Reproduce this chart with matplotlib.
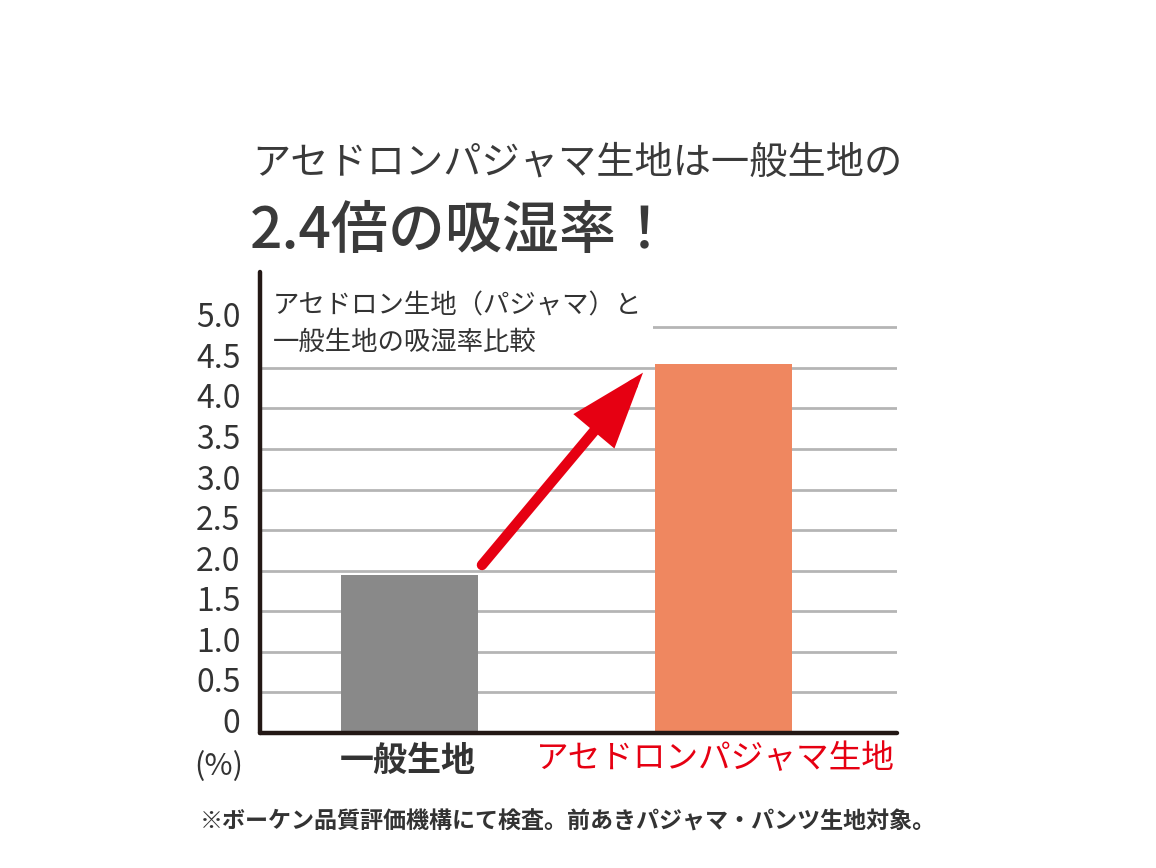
import matplotlib.pyplot as plt
from matplotlib.transforms import ScaledTranslation

plt.rcParams['font.family'] = ['Noto Sans CJK JP', 'DejaVu Sans']

# data
categories = ['一般生地', 'アセドロンパジャマ生地']
values = [1.95, 4.55]
bar_colors = ['#898989', '#ef8760']
label_colors = ['#333333', '#e60012']
y_ticks = [0, 0.5, 1.0, 1.5, 2.0, 2.5, 3.0, 3.5, 4.0, 4.5, 5.0]
y_labels = ['0', '0.5', '1.0', '1.5', '2.0', '2.5', '3.0', '3.5', '4.0', '4.5', '5.0']

W, H = 1156, 868
fig = plt.figure(figsize=(W / 100, H / 100), dpi=100)
ax = fig.add_axes([260 / W, 1 - 733 / H, (897 - 260) / W, (733 - 272) / H])

x = range(len(categories))
ax.bar(x, values, width=0.436, color=bar_colors, zorder=2)

ax.set_xlim(-0.476, 1.553)
ax.set_ylim(0, 5.68)

# gridlines + y labels (labels sit a little above their lines)
ax.set_yticks(y_ticks, y_labels)
ax.grid(axis='y', color='#b5b5b5', linewidth=2, zorder=0)
ax.set_axisbelow(True)
ax.tick_params(axis='y', length=0, pad=14, labelsize=23, labelcolor='#333333')
for lab in ax.get_yticklabels():
    lab.set_transform(lab.get_transform() + ScaledTranslation(0, 9 / 72, fig.dpi_scale_trans))
ax.yaxis.get_gridlines()[0].set_visible(False)

ax.set_xticks(list(x), categories)
ax.tick_params(axis='x', length=0, pad=7)
shifts = [-2, -8]
for lab, c, fs, fw, dx in zip(ax.get_xticklabels(), label_colors, [24.5, 23.5], ['bold', 'normal'], shifts):
    lab.set_color(c)
    lab.set_fontsize(fs)
    lab.set_fontweight(fw)
    lab.set_transform(lab.get_transform() + ScaledTranslation(dx / 100, 0, fig.dpi_scale_trans))

for s in ['top', 'right']:
    ax.spines[s].set_visible(False)
for s in ['left', 'bottom']:
    ax.spines[s].set_linewidth(3.2)
    ax.spines[s].set_color('#231815')
    ax.spines[s].set_capstyle('round')
    ax.spines[s].set_zorder(6)

# inner label
ax.text(-0.436, 5.04, 'アセドロン生地（パジャマ）と\n一般生地の吸湿率比較', fontsize=19,
        color='#333333', va='center', ha='left', linespacing=1.45, zorder=3,
        bbox=dict(facecolor='white', edgecolor='none', pad=8))

# red arrow
ax.annotate('', xy=(0.744, 4.44), xytext=(0.231, 2.07),
            arrowprops=dict(arrowstyle='-|>,head_length=4.0,head_width=1.4',
                            mutation_scale=10, color='#e60012', lw=7.5,
                            shrinkA=0, shrinkB=0, capstyle='round', joinstyle='miter'),
            zorder=4)

# titles
fig.text(252 / W, 1 - 163 / H, 'アセドロンパジャマ生地は一般生地の', fontsize=27.5,
         color='#3a3a3a', va='center', ha='left')
fig.text(250 / W, 1 - 232 / H, '2.4倍の吸湿率！', fontsize=41, fontweight='medium',
         color='#3a3a3a', va='center', ha='left')

fig.text(243 / W, 1 - 767 / H, '(%)', fontsize=22, color='#333333', va='center', ha='right')
fig.text(200 / W, 1 - 822 / H, '※ボーケン品質評価機構にて検査。前あきパジャマ・パンツ生地対象。',
         fontsize=16.6, fontweight='bold', color='#333333', va='center', ha='left')

fig.savefig('out.png', dpi=100, facecolor='white')
